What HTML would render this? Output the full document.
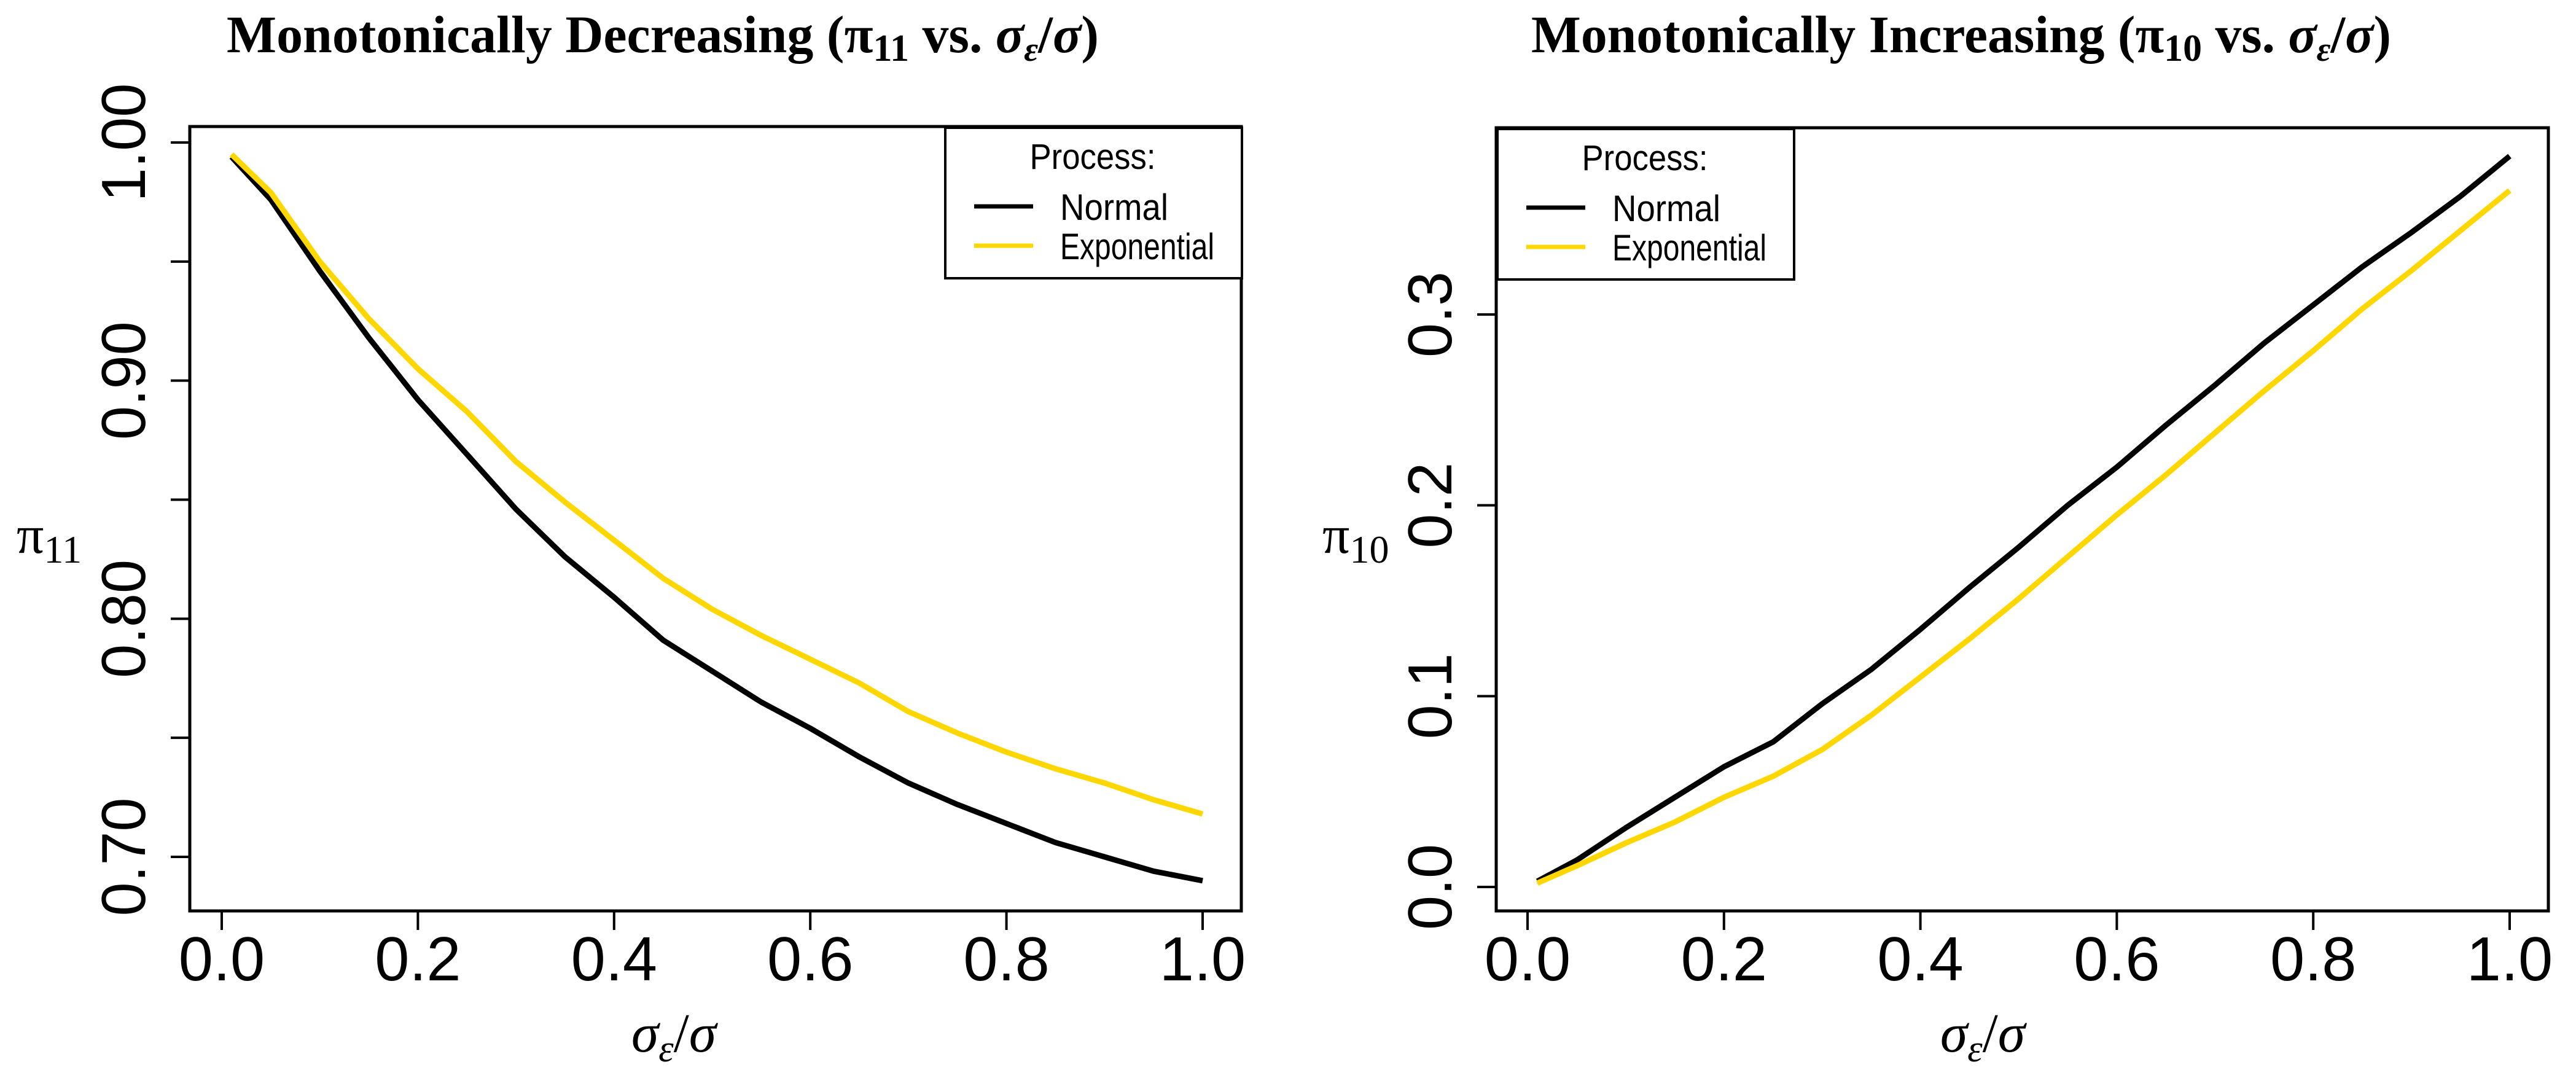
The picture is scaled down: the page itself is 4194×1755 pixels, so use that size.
<!DOCTYPE html>
<html><head><meta charset="utf-8">
<style>
html,body{margin:0;padding:0;background:#fff;}
svg{display:block;}
text{font-family:"Liberation Sans",sans-serif;}
.serif{font-family:"Liberation Serif",serif;}
</style></head>
<body>
<svg id="chart" width="4194" height="1755" viewBox="0 0 4194 1755" xmlns="http://www.w3.org/2000/svg">
<rect x="0" y="0" width="4194" height="1755" fill="#fff"/>
</svg>
<script>
const xValues = [0.01,0.05,0.1,0.15,0.2,0.25,0.3,0.35,0.4,0.45,0.5,0.55,0.6,0.65,0.7,0.75,0.8,0.85,0.9,0.95,1.0];
const decNormal = [0.994,0.976,0.946,0.918,0.892,0.869,0.846,0.826,0.809,0.791,0.778,0.765,0.754,0.742,0.731,0.722,0.714,0.706,0.700,0.694,0.690];
const decExpo = [0.995,0.979,0.950,0.926,0.905,0.887,0.866,0.849,0.833,0.817,0.804,0.793,0.783,0.773,0.761,0.752,0.744,0.737,0.731,0.724,0.718];
const incNormal = [0.003,0.014,0.031,0.047,0.063,0.076,0.096,0.114,0.135,0.157,0.178,0.200,0.220,0.242,0.263,0.285,0.305,0.325,0.343,0.362,0.383];
const incExpo = [0.002,0.011,0.023,0.034,0.047,0.058,0.072,0.090,0.110,0.130,0.151,0.173,0.195,0.216,0.238,0.260,0.281,0.303,0.323,0.344,0.365];
const xTicks = [0,0.2,0.4,0.6,0.8,1.0];
const xTickLabels = ["0.0","0.2","0.4","0.6","0.8","1.0"];
const decYTicks = [0.70,0.75,0.80,0.85,0.90,0.95,1.00];
const decYLabels = ["0.70","","0.80","","0.90","","1.00"];
const incYTicks = [0,0.1,0.2,0.3];
const incYLabels = ["0.0","0.1","0.2","0.3"];

const svg = document.getElementById('chart');
const NS = 'http://www.w3.org/2000/svg';
function mk(tag, attrs, parent){
  const e = document.createElementNS(NS, tag);
  for (const k in attrs) e.setAttribute(k, attrs[k]);
  (parent||svg).appendChild(e);
  return e;
}

function panel(cfg){
  const g = mk('g', {});
  
  
  const xs = v => cfg.x0 + (v - 0) * (cfg.x1 - cfg.x0) / 1.0;
  const ys = v => cfg.y0 + (v - cfg.v0) * (cfg.y1 - cfg.y0) / (cfg.v1 - cfg.v0);

  const t = mk('text', {x: cfg.titleX, y: 85, 'text-anchor':'middle', 'font-size':86, 'font-weight':'bold', class:'serif', textLength: cfg.titleLen, lengthAdjust:'spacingAndGlyphs'}, g);
  
  
  t.innerHTML = cfg.titleMain + ' (π<tspan font-size="62" dy="14">' + cfg.sub + '</tspan><tspan dy="-14">  vs.  </tspan><tspan font-style="italic">σ</tspan><tspan font-style="italic" font-size="56" dy="14">ε</tspan><tspan dy="-14">/</tspan><tspan font-style="italic">σ</tspan>)';

  const box = mk('rect', {x: cfg.bx0, y: cfg.by0, width: cfg.bx1 - cfg.bx0, height: cfg.by1 - cfg.by0, fill:'none', stroke:'#000', 'stroke-width':5}, g);
  
  

  xTicks.forEach((v,i) => {
    const tk = mk('line', {x1: xs(v), x2: xs(v), y1: cfg.by1, y2: cfg.by1 + 31, stroke:'#000', 'stroke-width':4}, g);
    
    
    const lb = mk('text', {x: xs(v), y: 1596, 'text-anchor':'middle', 'font-size':101}, g);
    
    
    lb.textContent = xTickLabels[i];
  });
  cfg.yTicks.forEach((v,i) => {
    const tk = mk('line', {x1: cfg.bx0 - 31, x2: cfg.bx0, y1: ys(v), y2: ys(v), stroke:'#000', 'stroke-width':4}, g);
    
    
    if (cfg.yLabels[i]) {
      const lx = cfg.bx0 - 73;
      const lb = mk('text', {x: lx, y: ys(v), 'text-anchor':'middle', 'font-size':101, textLength: cfg.yLabels[i].length > 3 ? 193 : 140, lengthAdjust:'spacingAndGlyphs', transform:'rotate(-90 '+lx+' '+ys(v)+')'}, g);
      
      
      lb.textContent = cfg.yLabels[i];
    }
  });
  const yt = mk('text', {x: cfg.ylabX, y: 900, 'font-size':88, class:'serif'}, g);
  
  
  yt.innerHTML = 'π<tspan font-size="64" dy="16">' + cfg.sub + '</tspan>';
  const xt = mk('text', {x: cfg.xlabX, y: 1712, 'text-anchor':'middle', 'font-size':90, class:'serif', 'font-style':'italic'}, g);
  
  
  xt.innerHTML = 'σ<tspan font-size="62" dy="16">ε</tspan><tspan dy="-16" font-style="normal">/</tspan>σ';

  const series = [[cfg.normal, '#000000', 'line-normal'], [cfg.expo, '#FFD700', 'line-exponential']];
  series.forEach(s => {
    const d = xValues.map((xv,i) => (i ? 'L' : 'M') + xs(xv).toFixed(1) + ' ' + ys(s[0][i]).toFixed(1)).join(' ');
    const p = mk('path', {d: d, fill:'none', stroke: s[1], 'stroke-width':9, 'stroke-linejoin':'round'}, g);
    
    
  });

  const lg = mk('g', {}, g);
  
  
  mk('rect', {x: cfg.lx, y: cfg.ly, width: 483, height: 245, fill:'#fff', stroke:'#000', 'stroke-width':4}, lg);
  const lt = mk('text', {x: cfg.lx + 240, y: cfg.ly + 67, 'text-anchor':'middle', 'font-size':58, textLength:205, lengthAdjust:'spacingAndGlyphs'}, lg);
  
  
  lt.textContent = 'Process:';
  [['Normal','#000000',150,176],['Exponential','#FFD700',214,251]].forEach(e => {
    const en = mk('g', {}, lg);
    
    
    mk('line', {x1: cfg.lx + 47, x2: cfg.lx + 143, y1: cfg.ly + e[2] - 22, y2: cfg.ly + e[2] - 22, stroke: e[1], 'stroke-width':7}, en);
    const tx = mk('text', {x: cfg.lx + 187, y: cfg.ly + e[2], 'font-size':60, textLength: e[3], lengthAdjust:'spacingAndGlyphs'}, en);
    tx.textContent = e[0];
  });
}

panel({name:'panel-decreasing', titleMain:'Monotonically Decreasing', sub:'11', titleX:1079, titleLen:1420,
  bx0:309, bx1:2021, by0:206, by1:1483, x0:361, x1:1958, y0:1395, y1:232, v0:0.70, v1:1.00,
  yTicks:decYTicks, yLabels:decYLabels, normal:decNormal, expo:decExpo,
  ylabX:27, xlabX:1097, lx:1539, ly:208});
panel({name:'panel-increasing', titleMain:'Monotonically Increasing', sub:'10', titleX:3193, titleLen:1400,
  bx0:2436, bx1:4149, by0:208, by1:1483, x0:2487, x1:4086, y0:1444, y1:512, v0:0, v1:0.3,
  yTicks:incYTicks, yLabels:incYLabels, normal:incNormal, expo:incExpo,
  ylabX:2153, xlabX:3228, lx:2438, ly:210});
</script>
</body></html>
